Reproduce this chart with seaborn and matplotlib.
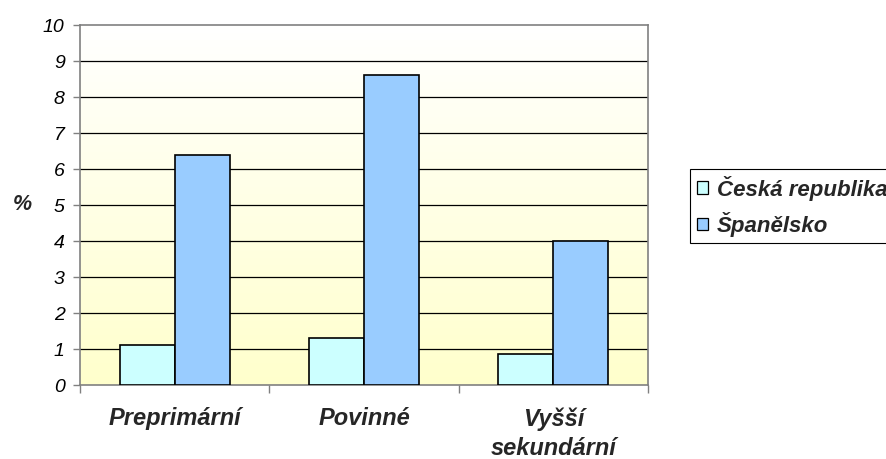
import numpy as np
import pandas as pd
import matplotlib
matplotlib.use("Agg")
import matplotlib.pyplot as plt
import seaborn as sns

# Data
categories = ["Preprimární", "Povinné", "Vyšší\nsekundární"]
series_names = ["Česká republika", "Španělsko"]
cz_values = [1.1, 1.3, 0.85]
es_values = [6.4, 8.6, 4.0]
y_ticks = list(range(0, 11))

colors = ["#CCFFFF", "#99CCFF"]

df = pd.DataFrame({
    "kategorie": categories * 2,
    "hodnota": cz_values + es_values,
    "zeme": [series_names[0]] * 3 + [series_names[1]] * 3,
})

sns.set_theme(style="white")
plt.rcParams["font.family"] = ["Liberation Sans", "DejaVu Sans"]

fig = plt.figure(figsize=(8.87, 4.59), dpi=100)
ax = fig.add_axes([80 / 887, 1 - 385 / 459, (648 - 80) / 887, (385 - 25) / 459])

# gradient background: white at top, pale yellow at bottom
grad = np.linspace(0, 1, 256).reshape(-1, 1)
top = np.array([1.0, 1.0, 1.0])
bot = np.array([1.0, 1.0, 0.80])
img = top[None, None, :] * (1 - grad[..., None]) + bot[None, None, :] * grad[..., None]
ax.imshow(img, extent=[0, 1, 0, 1], transform=ax.transAxes, aspect="auto", zorder=0)

sns.barplot(data=df, x="kategorie", y="hodnota", hue="zeme", palette=colors,
            width=0.58, gap=0, edgecolor="black", linewidth=1.2,
            saturation=1, ax=ax, zorder=3)

ax.set_xlim(-0.5, 2.5)
ax.set_ylim(0, 10)
ax.set_yticks(y_ticks)
ax.set_yticklabels([str(t) for t in y_ticks], fontsize=14, fontstyle="italic", color="black")

# horizontal gridlines
for t in y_ticks[1:-1]:
    ax.axhline(t, color="black", linewidth=0.9, zorder=1)

for s in ax.spines.values():
    s.set_color("#808080")
    s.set_linewidth(1.2)
    s.set_visible(True)

ax.tick_params(axis="y", which="both", left=True, length=5, width=1, color="#808080", pad=6)
# category boundary ticks on x axis
ax.set_xticks([-0.5, 0.5, 1.5, 2.5])
ax.set_xticklabels([])
ax.tick_params(axis="x", which="major", bottom=True, length=6, width=1, color="#808080")
ax.set_xticks([0, 1, 2], minor=True)
ax.set_xticklabels(categories, minor=True, fontsize=17, fontweight="bold",
                   fontstyle="italic", linespacing=1.35)
ax.tick_params(axis="x", which="minor", bottom=False, length=0, pad=16)
for lbl in ax.get_xticklabels(minor=True):
    lbl.set_verticalalignment("top")

ax.set_xlabel("")
ax.set_ylabel("")
fig.text(22 / 887, 1 - 205 / 459, "%", fontsize=15.5, fontweight="bold",
         fontstyle="italic", ha="center", va="center")

handles, labels = ax.get_legend_handles_labels()
ax.get_legend().remove()
leg = fig.legend(handles, labels, loc="upper left",
                 bbox_to_anchor=(690 / 887, 1 - 169 / 459),
                 prop={"family": "Liberation Sans", "weight": "bold", "style": "italic", "size": 16},
                 frameon=True, fancybox=False, edgecolor="black", framealpha=1,
                 handlelength=0.5, handleheight=0.5, handletextpad=0.4,
                 borderpad=0.3, labelspacing=0.5, borderaxespad=0)
leg.get_frame().set_linewidth(0.8)
for h in leg.legend_handles:
    h.set_edgecolor("black")
    h.set_linewidth(0.9)

fig.savefig("out.png", dpi=100)
